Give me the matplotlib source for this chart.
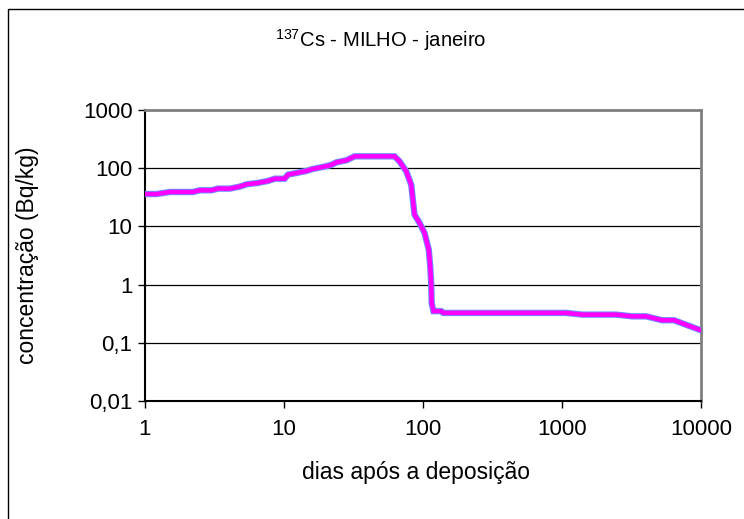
import matplotlib
matplotlib.use("Agg")
import matplotlib.pyplot as plt
from matplotlib.patches import Rectangle

plt.rcParams['font.family'] = ['Liberation Sans', 'DejaVu Sans']
plt.rcParams['mathtext.fontset'] = 'custom'
plt.rcParams['mathtext.rm'] = 'Liberation Sans'
plt.rcParams['mathtext.default'] = 'regular'

# 137Cs concentration in maize after a January deposition
days = [1, 1.21, 1.51, 2.21, 2.48, 3.01, 3.34, 4.08, 4.81, 5.38, 6.48, 7.64,
        8.6, 10.1, 10.7, 12.3, 14.5, 16.1, 19.0, 21.9, 23.8, 28.1, 32.2, 62.4,
        67.8, 75.7, 82.3, 84.5, 86.9, 94.4, 102.6, 110, 112.7, 114.5, 115.5,
        119, 135, 140, 1070, 1400, 2450, 3190, 4030, 5250, 6400, 10000]
conc = [36, 36, 39, 39, 41.7, 41.7, 44.6, 44.6, 48.3, 52.9, 55.8, 60.3,
        66, 66, 77.6, 82.7, 89.8, 97, 105, 114, 126, 136.5, 160, 160,
        131, 88.8, 52, 28.9, 15.9, 11.5, 7.7, 4.0, 2.06, 1.07, 0.48,
        0.35, 0.35, 0.326, 0.326, 0.305, 0.305, 0.285, 0.285, 0.244, 0.244, 0.164]

x_ticks = [1, 10, 100, 1000, 10000]
x_labels = ["1", "10", "100", "1000", "10000"]
y_ticks = [0.01, 0.1, 1, 10, 100, 1000]
y_labels = ["0,01", "0,1", "1", "10", "100", "1000"]

W, H = 744, 519
fig = plt.figure(figsize=(W / 100, H / 100), dpi=100)

# outer chart frame (only top and left edges fall inside the canvas)
fig.patches.append(Rectangle((8 / W, -0.1), 1.2, 1 - 9 / H + 0.1,
                             transform=fig.transFigure, fill=False,
                             edgecolor='black', linewidth=1.0))

left, right, top, bottom = 145 / W, 701 / W, 1 - 110 / H, 1 - 401 / H
ax = fig.add_axes([left, bottom, right - left, top - bottom])
ax.set_xscale('log')
ax.set_yscale('log')
ax.set_xlim(1, 10000)
ax.set_ylim(0.01, 1000)

for v in y_ticks[1:-1]:
    ax.axhline(v, color='black', linewidth=0.9, zorder=1)

ax.plot(days, conc, color='#6f8cff', linewidth=4.6, solid_joinstyle='miter',
        zorder=3)
ax.plot(days, conc, color='#ff00ff', linewidth=3.2, solid_joinstyle='miter',
        zorder=4)

ax.set_xticks(x_ticks)
ax.set_xticklabels(x_labels)
ax.set_yticks(y_ticks)
ax.set_yticklabels(y_labels)
ax.minorticks_off()
ax.tick_params(axis='both', direction='out', length=5, width=1, color='black',
               labelsize=16, labelcolor='black')
ax.tick_params(axis='x', pad=8)
ax.tick_params(axis='y', pad=4)

ax.spines['left'].set_color('black')
ax.spines['bottom'].set_color('black')
ax.spines['left'].set_linewidth(1.5)
ax.spines['bottom'].set_linewidth(1.5)
ax.spines['top'].set_color('#808080')
ax.spines['right'].set_color('#808080')
ax.spines['top'].set_linewidth(2)
ax.spines['right'].set_linewidth(2)

fig.text(381 / W, 1 - 40 / H, r'$^{137}$Cs - MILHO - janeiro', ha='center',
         va='center', fontsize=14.6)
fig.text(416 / W, 1 - 472 / H, 'dias após a deposição', ha='center',
         va='center', fontsize=16.5)
fig.text(28 / W, 1 - 255 / H, 'concentração (Bq/kg)', ha='center',
         va='center', rotation=90, fontsize=16.5)

fig.savefig('out.png', dpi=100, facecolor='white')
